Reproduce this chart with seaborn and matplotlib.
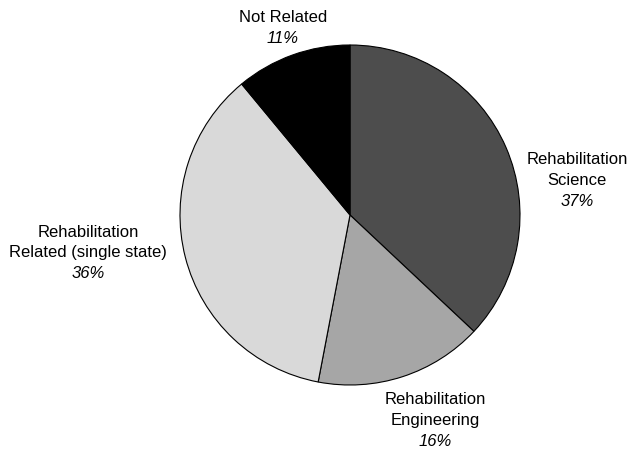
import matplotlib
matplotlib.use("Agg")
import matplotlib.pyplot as plt
import seaborn as sns

# Share of programmes by category
categories = ["Rehabilitation\nScience", "Rehabilitation\nEngineering",
              "Rehabilitation\nRelated (single state)", "Not Related"]
shares = [37, 16, 36, 11]
colors = ["#4d4d4d", "#a6a6a6", "#d9d9d9", "#000000"]

sns.set_theme(style="white")
plt.rcParams["font.family"] = ["Liberation Sans", "DejaVu Sans"]

fig = plt.figure(figsize=(6.30, 4.49), dpi=100)
ax = fig.add_axes([0, 0, 1, 1])

# pie centre sits at pixel (350, 215) with a 170 px radius
cx, cy, r = 350, 215, 170
ax.pie(shares, colors=colors, startangle=90, counterclock=False,
       wedgeprops=dict(edgecolor="black", linewidth=0.8))
ax.set_xlim(-cx / r, (630 - cx) / r)
ax.set_ylim(-(449 - cy) / r, cy / r)
ax.set_aspect("equal")
ax.axis("off")

# label block anchors (centre of the first line), in pixels
label_anchor = [(577, 160), (435, 400), (88, 232), (283, 18)]
line_h = 20.5

for name, share, (px, py) in zip(categories, shares, label_anchor):
    lines = name.split("\n")
    for i, ln in enumerate(lines):
        ax.text((px - cx) / r, (cy - (py + i * line_h)) / r, ln,
                ha="center", va="center", fontsize=12, color="black")
    ax.text((px - cx) / r, (cy - (py + len(lines) * line_h)) / r, f"{share}%",
            ha="center", va="center", fontsize=12, style="italic", color="black")

fig.savefig("out.png", dpi=100)
